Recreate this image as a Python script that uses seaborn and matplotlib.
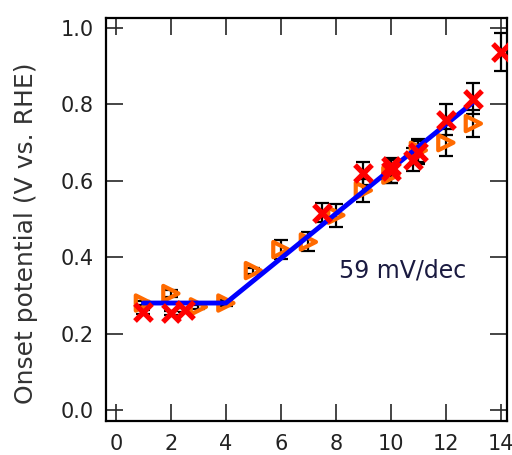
import numpy as np
import pandas as pd
import matplotlib
matplotlib.use("Agg")
import matplotlib.pyplot as plt
import seaborn as sns

sns.set_style("ticks")
plt.rcParams['font.family'] = ['DejaVu Sans']

# orange triangles
ph_tri = [1, 2, 3, 4, 5, 6, 7, 8, 9, 10, 11, 12, 13]
e_tri = [0.28, 0.305, 0.27, 0.28, 0.365, 0.42, 0.44, 0.51, 0.575, 0.615, 0.68, 0.70, 0.75]
err_tri = [0.005, 0.008, 0.005, 0.008, 0.008, 0.025, 0.025, 0.03, 0.03, 0.02, 0.03, 0.035, 0.035]

# red crosses
ph_x = [1, 2, 2.5, 7.5, 9, 10, 10, 10.8, 11, 12, 13, 14]
e_x = [0.256, 0.254, 0.262, 0.517, 0.62, 0.625, 0.64, 0.655, 0.675, 0.76, 0.815, 0.937]
err_x = [0.005, 0.005, 0.005, 0.025, 0.03, 0.03, 0.02, 0.03, 0.03, 0.04, 0.04, 0.05]

# fit line
fit_ph = [1, 4, 13]
fit_e = [0.28, 0.28, 0.806]

xticks = [0, 2, 4, 6, 8, 10, 12, 14]
yticks = [0.0, 0.2, 0.4, 0.6, 0.8, 1.0]

orange = '#ff6a00'

fig = plt.figure(figsize=(5.12, 4.55), dpi=100)
ax = fig.add_axes([0.207, 0.0747, 0.783, 0.8853])

ax.errorbar(ph_tri, e_tri, yerr=err_tri, fmt='none', ecolor='black',
            elinewidth=1.6, capsize=5, capthick=1.6, zorder=1)
ax.errorbar(ph_x, e_x, yerr=err_x, fmt='none', ecolor='black',
            elinewidth=1.6, capsize=5, capthick=1.6, zorder=1)

sns.scatterplot(x=ph_tri, y=e_tri, marker='>', s=120, facecolors='none',
                edgecolor=orange, linewidth=3, ax=ax, zorder=2)
sns.lineplot(x=fit_ph, y=fit_e, color='#0000ff', linewidth=3.5, ax=ax,
             zorder=3, sort=False)
sns.scatterplot(x=ph_x, y=e_x, marker='x', s=150, color='#ff0000',
                linewidth=3.8, ax=ax, zorder=4)

ax.text(8.1, 0.364, '59 mV/dec', fontsize=17, color='#1a1a40',
        ha='left', va='center')

ax.set_xlim(-0.36, 14.22)
ax.set_ylim(-0.029, 1.026)
ax.set_xticks(xticks)
ax.set_xticklabels([str(t) for t in xticks])
ax.set_yticks(yticks)
ax.set_yticklabels([f'{t:.1f}' for t in yticks])

for s in ax.spines.values():
    s.set_visible(True)
    s.set_linewidth(1.6)
    s.set_color('black')

ax.tick_params(direction='in', length=12, width=1.2, top=True, right=True,
               labelsize=15, labelcolor='#222222', pad=9)

ax.set_ylabel('Onset potential (V vs. RHE)', fontsize=18, color='#333333',
              va='center')
ax.yaxis.set_label_coords(-0.2, 0.466)

fig.savefig('out.png', dpi=100)
